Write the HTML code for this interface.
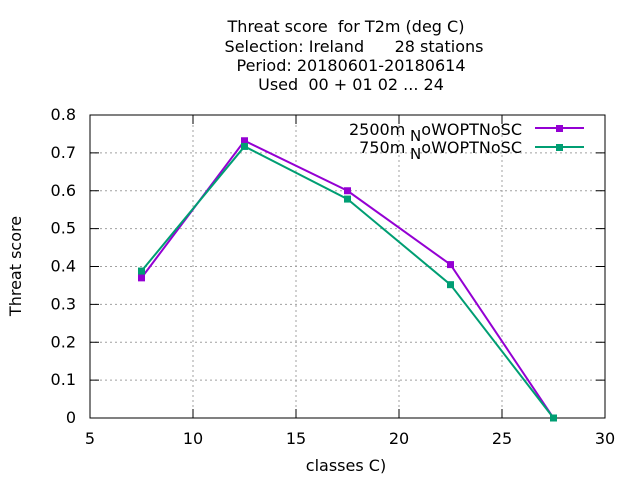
<!DOCTYPE html>
<html><head><meta charset="utf-8"><style>
body{margin:0;background:#fff;}
svg{display:block;font-family:"DejaVu Sans","Liberation Sans",sans-serif;}
</style></head><body>
<svg id="chart" width="640" height="480" viewBox="0 0 640 480">
<g font-size="16" text-anchor="middle" fill="#000">
<text x="346" y="32" xml:space="preserve">Threat score  for T2m (deg C)</text>
<text x="354" y="52" xml:space="preserve">Selection: Ireland      28 stations</text>
<text x="351" y="71">Period: 20180601-20180614</text>
<text x="351" y="90" xml:space="preserve">Used  00 + 01 02 ... 24</text>
</g>
<g id="grid"></g>
<rect x="90" y="115" width="515" height="303" fill="none" stroke="#000" stroke-width="1"/>
<g id="ticks"></g>
<text x="346" y="471" font-size="16" text-anchor="middle">classes C)</text>
<text x="21" y="266" font-size="16" text-anchor="middle" transform="rotate(-90 21 266)">Threat score</text>
<g id="series"></g>
<g font-size="16" text-anchor="end">
<text x="522" y="135">2500m<tspan dy="6" font-size="15"> N</tspan><tspan dy="-6">oWOPTNoSC</tspan></text>
<text x="522" y="153">750m<tspan dy="6" font-size="15"> N</tspan><tspan dy="-6">oWOPTNoSC</tspan></text>
<line x1="535" y1="128" x2="584" y2="128" stroke="#9400d3" stroke-width="2"/>
<rect x="556" y="125" width="7" height="7" fill="#9400d3"/>
<line x1="535" y1="147" x2="584" y2="147" stroke="#009e73" stroke-width="2"/>
<rect x="556" y="144" width="7" height="7" fill="#009e73"/>
</g>
</svg>
<script>
const classes=[7.5,12.5,17.5,22.5,27.5];
const s2500=[0.370,0.732,0.600,0.405,0.0];
const s750=[0.388,0.717,0.578,0.352,0.0];
const xTicks=[5,10,15,20,25,30];
const yTicks=[0,0.1,0.2,0.3,0.4,0.5,0.6,0.7,0.8];
const NS="http://www.w3.org/2000/svg";
function X(v){return 90+(v-5)/25*515;}
function Y(v){return 418-v/0.8*303;}
function mk(t,a,p){const e=document.createElementNS(NS,t);for(const k in a)e.setAttribute(k,a[k]);p.appendChild(e);return e;}
const grid=document.getElementById('grid'),ticks=document.getElementById('ticks'),ser=document.getElementById('series');
xTicks.forEach(v=>{const x=X(v);
 if(v>5&&v<30){const g=mk('line',{x1:x,y1:115,x2:x,y2:418,stroke:'#a0a0a0','stroke-dasharray':'2,3'},grid);
 
 }
 mk('line',{x1:x,y1:418,x2:x,y2:409,stroke:'#000'},ticks);
 mk('line',{x1:x,y1:115,x2:x,y2:124,stroke:'#000'},ticks);
 const t=mk('text',{x:x,y:444,'font-size':16,'text-anchor':'middle'},ticks);t.textContent=v;
 
 });
yTicks.forEach(v=>{const y=Y(v);
 if(v>0&&v<0.8){const g=mk('line',{x1:90,y1:y,x2:605,y2:y,stroke:'#a0a0a0','stroke-dasharray':'2,3'},grid);
 
 }
 mk('line',{x1:90,y1:y,x2:99,y2:y,stroke:'#000'},ticks);
 mk('line',{x1:605,y1:y,x2:596,y2:y,stroke:'#000'},ticks);
 const t=mk('text',{x:76,y:y+5,'font-size':16,'text-anchor':'end'},ticks);t.textContent=v===0?'0':v.toFixed(1);
 
 });
function draw(vals,col,name){
 const pts=classes.map((c,i)=>X(c)+','+Y(vals[i])).join(' ');
 const l=mk('polyline',{points:pts,fill:'none',stroke:col,'stroke-width':2},ser);
 
 
 classes.forEach((c,i)=>{const r=mk('rect',{x:X(c)-3.5,y:Y(vals[i])-3.5,width:7,height:7,fill:col},ser);
 
 });
}
draw(s2500,'#9400d3','2500m');
draw(s750,'#009e73','750m');
</script>
</body></html>
